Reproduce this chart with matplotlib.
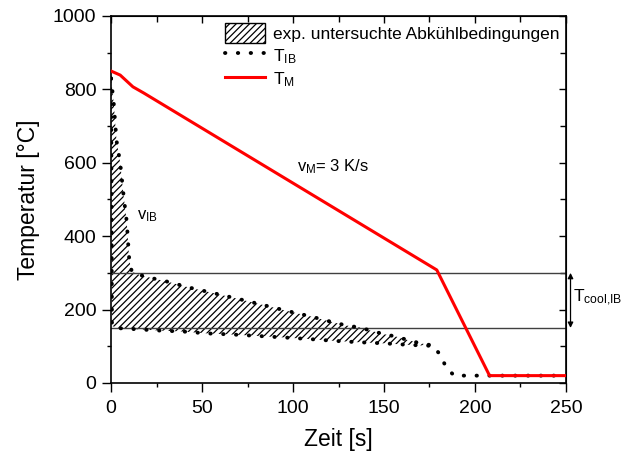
import numpy as np
import matplotlib
matplotlib.use("Agg")
import matplotlib.pyplot as plt
from matplotlib.patches import Patch
from matplotlib.ticker import MultipleLocator

plt.rcParams["font.family"] = ["Liberation Sans", "DejaVu Sans"]
plt.rcParams["mathtext.fontset"] = "custom"
plt.rcParams["mathtext.rm"] = "Liberation Sans"
plt.rcParams["mathtext.it"] = "Liberation Sans"
plt.rcParams["hatch.linewidth"] = 0.9

# Abkühlkurve Innenbereich (obere Grenze des untersuchten Bereichs)
t_ib_upper = [0, 1.5, 3, 5, 7, 8.6, 10, 11.4, 16, 23, 31, 43, 57, 70, 84, 97, 110, 123,
              130, 137, 143, 150, 157, 163, 170, 177]
T_ib_upper = [830, 760, 660, 600, 505, 440, 335, 303, 294, 285, 276, 260, 244, 229, 212, 196, 181, 164,
              156, 151, 142, 133, 126, 117, 108, 102]

# untere Grenze + Abkühlung auf Raumtemperatur
t_ib_lower = [0, 0.5, 5, 12, 26, 40, 53, 67, 81, 95, 108, 122, 136, 150, 163, 177,
              181, 184, 188.5, 250]
T_ib_lower = [830, 155, 149, 147, 143, 140, 135, 132, 128, 124, 120, 115, 111, 108, 104, 101,
              76, 44, 20, 20]

# Temperatur Mantel
t_m = [0, 5, 12, 18, 179, 208, 250]
T_m = [850, 839, 807, 790, 308, 20, 20]

# Grenzen T_cool,IB
T_cool = [300, 150]

fig = plt.figure(figsize=(6.24, 4.57), dpi=100)
ax = fig.add_axes([0.178, 0.162, 0.729, 0.803])

# schraffierter Bereich zwischen oberer und unterer Kurve (bis t = 177 s)
n_low = t_ib_lower.index(177) + 1
poly_t = list(t_ib_upper) + list(t_ib_lower[:n_low][::-1])
poly_T = list(T_ib_upper) + list(T_ib_lower[:n_low][::-1])
ax.fill(poly_t, poly_T, facecolor="none", edgecolor="black", hatch="/////",
        linewidth=0)

for y in T_cool:
    ax.axhline(y, color="#404040", linewidth=1.0, zorder=1)

dots = dict(color="black", linewidth=2.8, linestyle=(0, (0.1, 3.2)),
            dash_capstyle="round", zorder=2)
l_ib, = ax.plot(t_ib_upper, T_ib_upper, label=r"T$_{\mathrm{IB}}$", **dots)
ax.plot(t_ib_lower, T_ib_lower, **dots)
l_m, = ax.plot(t_m, T_m, color="#ff0000", linewidth=2.2, label=r"T$_{\mathrm{M}}$", zorder=3)

ax.text(14, 455, r"v$_{\mathrm{IB}}$", fontsize=12, va="center")
ax.text(102, 590, r"v$_{\mathrm{M}}$= 3 K/s", fontsize=12, va="center")

# Doppelpfeil rechts neben dem Diagramm
ax.annotate("", xy=(252.5, T_cool[0]), xytext=(252.5, T_cool[1]),
            annotation_clip=False,
            arrowprops=dict(arrowstyle="<|-|>", color="black", lw=0.9,
                            mutation_scale=8, shrinkA=0, shrinkB=0))
ax.text(254.0, 232, r"T$_{\mathrm{cool{,}IB}}$", fontsize=12.5, va="center", clip_on=False)

ax.set_xlim(0, 250)
ax.set_ylim(0, 1000)
ax.set_xlabel("Zeit [s]", fontsize=16.5, labelpad=8)
ax.set_ylabel("Temperatur [°C]", fontsize=16.5, labelpad=9)
ax.xaxis.set_major_locator(MultipleLocator(50))
ax.xaxis.set_minor_locator(MultipleLocator(25))
ax.yaxis.set_major_locator(MultipleLocator(200))
ax.yaxis.set_minor_locator(MultipleLocator(100))
ax.tick_params(which="both", direction="out", labelsize=14, width=1.0)
ax.tick_params(which="major", length=6.5, pad=4)
ax.tick_params(axis="x", which="major", pad=6)
ax.tick_params(which="minor", length=3)
for s in ax.spines.values():
    s.set_linewidth(1.2)

# Ticks oben und rechts nach innen
top = ax.secondary_xaxis("top")
top.xaxis.set_major_locator(MultipleLocator(50))
top.xaxis.set_minor_locator(MultipleLocator(25))
top.tick_params(which="both", direction="in", labeltop=False, width=1.0)
top.tick_params(which="major", length=5)
top.tick_params(which="minor", length=4)
right = ax.secondary_yaxis("right")
right.yaxis.set_major_locator(MultipleLocator(200))
right.yaxis.set_minor_locator(MultipleLocator(100))
right.tick_params(which="both", direction="in", labelright=False, width=1.0)
right.tick_params(which="major", length=5)
right.tick_params(which="minor", length=4)

hatch_handle = Patch(facecolor="none", edgecolor="black", hatch="/////",
                     linewidth=1.0)
ax.legend([hatch_handle, l_ib, l_m],
          ["exp. untersuchte Abkühlbedingungen", r"T$_{\mathrm{IB}}$", r"T$_{\mathrm{M}}$"],
          loc="upper right", frameon=False, fontsize=12.5, handlelength=2.3,
          handleheight=1.4, labelspacing=0.15, handletextpad=0.45,
          borderaxespad=0.1, borderpad=0.3)

fig.savefig("out.png", dpi=100)
